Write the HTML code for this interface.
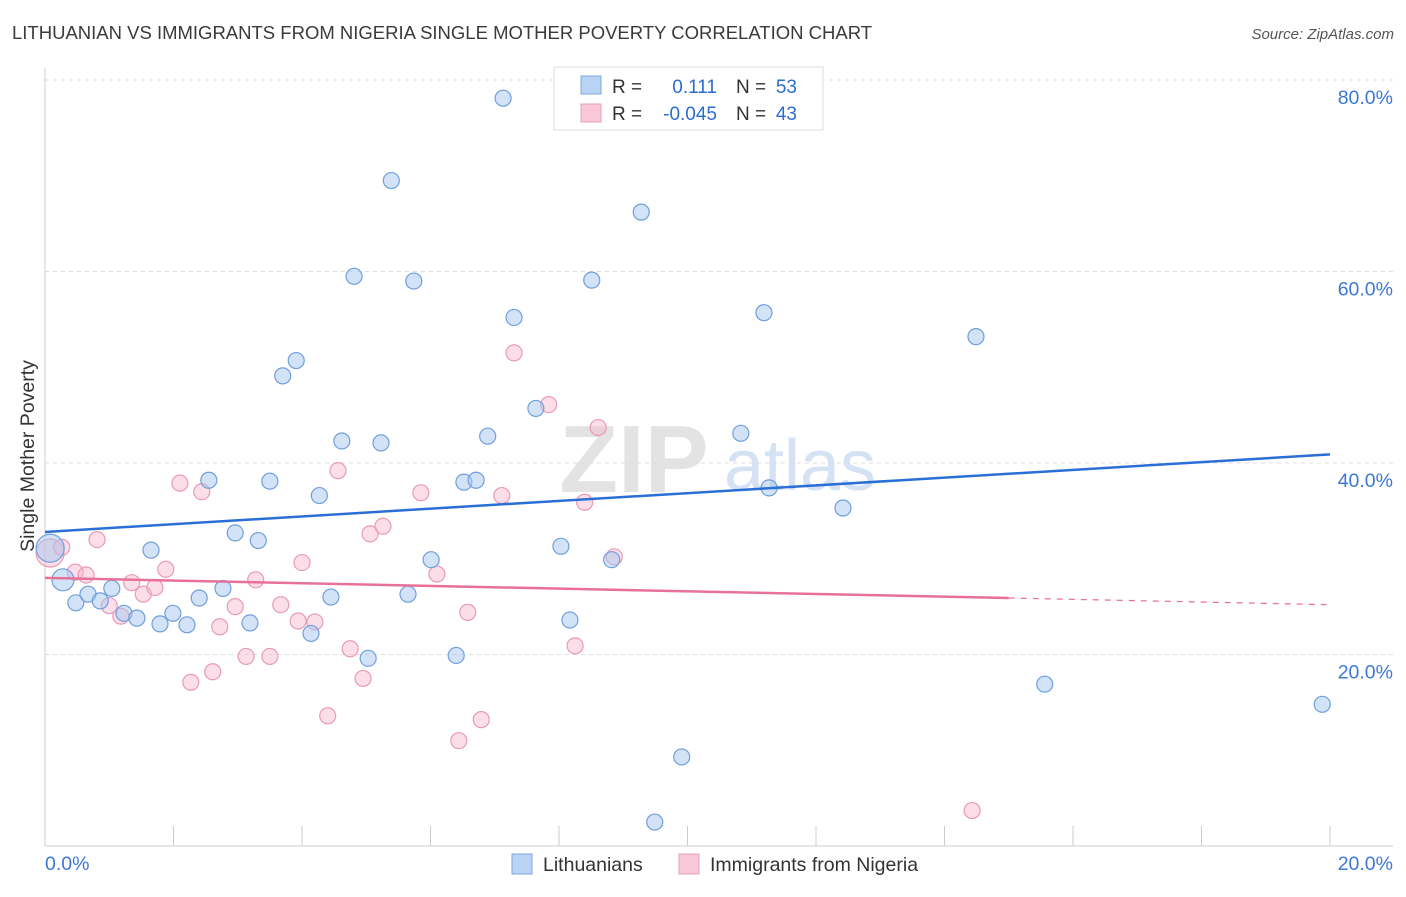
<!DOCTYPE html>
<html><head><meta charset="utf-8"><style>
body{margin:0;background:#fff;font-family:"Liberation Sans",sans-serif;}
svg text{font-family:"Liberation Sans",sans-serif;}
</style></head><body>
<svg id="chart" width="1406" height="892">
<text x="12" y="39" font-size="18.5" fill="#3a3a3a">LITHUANIAN VS IMMIGRANTS FROM NIGERIA SINGLE MOTHER POVERTY CORRELATION CHART</text>
<text x="1394" y="39" font-size="15" fill="#555" text-anchor="end" font-style="italic">Source: ZipAtlas.com</text>
<text x="634" y="492" font-size="96" fill="#e3e3e3" font-family="Liberation Serif" font-weight="bold" text-anchor="middle">ZIP</text>
<text x="800" y="490" font-size="72" fill="#d4e2f3" text-anchor="middle">atlas</text>
<g id="grid"></g>
<g id="axes"></g>
<g id="points"></g>
<g id="lines"></g>
<text x="34" y="456" font-size="19.5" fill="#333" text-anchor="middle" transform="rotate(-90 34 456)">Single Mother Poverty</text>
<g>
<rect x="554" y="67" width="269" height="63" fill="#fff" stroke="#ddd"/>
<rect x="581" y="76" width="20" height="18" fill="#b8d3f4" stroke="#7ea8dd"/>
<rect x="581" y="104" width="20" height="18" fill="#f8c8d8" stroke="#eaa0ba"/>
<text x="612" y="93" font-size="19" fill="#333">R =</text>
<text x="717" y="93" font-size="19" fill="#2b6cd0" text-anchor="end">0.111</text>
<text x="736" y="93" font-size="19" fill="#333">N =</text>
<text x="797" y="93" font-size="19" fill="#2b6cd0" text-anchor="end">53</text>
<text x="612" y="120" font-size="19" fill="#333">R =</text>
<text x="717" y="120" font-size="19" fill="#2b6cd0" text-anchor="end">-0.045</text>
<text x="736" y="120" font-size="19" fill="#333">N =</text>
<text x="797" y="120" font-size="19" fill="#2b6cd0" text-anchor="end">43</text>
</g>
<g>
<rect x="512" y="854" width="20" height="20" fill="#b8d3f4" stroke="#7ea8dd"/>
<text x="543" y="871" font-size="19.5" fill="#333">Lithuanians</text>
<rect x="679" y="854" width="20" height="20" fill="#f8c8d8" stroke="#eaa0ba"/>
<text x="710" y="871" font-size="19.5" fill="#333">Immigrants from Nigeria</text>
</g>
</svg>
<script>
const blueX=[0.08,0.28,0.48,0.67,0.86,1.04,1.23,1.43,1.65,1.79,1.99,2.21,2.40,2.55,2.77,2.96,3.19,3.32,3.50,3.70,3.91,4.14,4.27,4.45,4.62,4.81,5.03,5.23,5.39,5.65,5.74,6.01,6.40,6.52,6.71,6.89,7.13,7.30,7.64,8.03,8.17,8.51,8.82,9.28,9.49,9.91,10.83,11.19,11.27,12.42,14.49,15.56,19.88];
const blueY=[31.1,27.8,25.4,26.3,25.6,26.9,24.3,23.8,30.9,23.2,24.3,23.1,25.9,38.2,26.9,32.7,23.3,31.9,38.1,49.1,50.7,22.2,36.6,26.0,42.3,59.5,19.6,42.1,69.5,26.3,59.0,29.9,19.9,38.0,38.2,42.8,78.1,55.2,45.7,31.3,23.6,59.1,29.9,66.2,2.5,9.3,43.1,55.7,37.4,35.3,53.2,16.9,14.8];
const pinkX=[0.08,0.26,0.47,0.64,0.81,1.00,1.18,1.35,1.53,1.71,1.88,2.10,2.27,2.44,2.61,2.72,2.96,3.13,3.28,3.50,3.67,3.94,4.00,4.20,4.40,4.56,4.75,4.95,5.06,5.26,5.85,6.10,6.44,6.58,6.79,7.11,7.30,7.84,8.25,8.40,8.61,8.86,14.43];
const pinkY=[30.6,31.2,28.6,28.3,32.0,25.1,24.0,27.5,26.3,27.0,28.9,37.9,17.1,37.0,18.2,22.9,25.0,19.8,27.8,19.8,25.2,23.5,29.6,23.4,13.6,39.2,20.6,17.5,32.6,33.4,36.9,28.4,11.0,24.4,13.2,36.6,51.5,46.1,20.9,35.9,43.7,30.2,3.7];
const yTicks=[20,40,60,80];
const yTickLabels=["20.0%","40.0%","60.0%","80.0%"];
const xTickLabels=["0.0%","20.0%"];
const blueTrend=[32.8,40.9];
const pinkTrend=[28.0,25.2];
const NS="http://www.w3.org/2000/svg";
const sx=v=>45+v/20*1285;
const sy=v=>846-v/80*766;
function mk(tag,attrs,parent){const e=document.createElementNS(NS,tag);for(const k in attrs)e.setAttribute(k,attrs[k]);document.getElementById(parent).appendChild(e);return e;}
yTicks.forEach((t,i)=>{
 const g=mk('line',{x1:45,x2:1393,y1:sy(t),y2:sy(t),stroke:'#ddd','stroke-dasharray':'4,4'},'grid');
 
 
 const l=mk('text',{x:1393,y:sy(t)+24,'font-size':19.5,fill:'#3b78d8','text-anchor':'end'},'axes');
 l.textContent=yTickLabels[i];
 
 
});
const ax=mk('line',{x1:45,x2:45,y1:68,y2:846,stroke:'#ccc'},'axes');


const bx=mk('line',{x1:45,x2:1393,y1:846,y2:846,stroke:'#ccc'},'axes');


for(let i=0;i<=10;i++){
 const t=mk('line',{x1:sx(i*2),x2:sx(i*2),y1:826,y2:846,stroke:'#ccc'},'axes');
 
 
}
[[0,'start',45],[20,'end',1393]].forEach((d,i)=>{
 const l=mk('text',{x:d[2],y:870,'font-size':19.5,fill:'#3b78d8','text-anchor':d[1]},'axes');
 l.textContent=xTickLabels[i];
 
 
});
function pts(X,Y,fill,stroke,name){
 X.forEach((x,i)=>{
  const r=i===0?14:(i===1&&name==='lithuanian-point'?11:8);
  const c=mk('circle',{cx:sx(x),cy:sy(Y[i]),r:r,fill:fill,stroke:stroke,'stroke-width':1.2},'points');
  
  
 });
}
pts(pinkX,pinkY,'rgba(246,182,204,0.45)','#e99ab6','nigeria-point');
pts(blueX,blueY,'rgba(168,200,240,0.5)','#6f9fdc','lithuanian-point');
const bl=mk('line',{x1:sx(0),y1:sy(blueTrend[0]),x2:sx(20),y2:sy(blueTrend[1]),stroke:'#2a6fd6','stroke-width':2.5},'lines');


const pm=v=>pinkTrend[0]+(pinkTrend[1]-pinkTrend[0])*v/20;
const pl=mk('line',{x1:sx(0),y1:sy(pm(0)),x2:sx(15),y2:sy(pm(15)),stroke:'#e8719a','stroke-width':2.5},'lines');


const pd=mk('line',{x1:sx(15),y1:sy(pm(15)),x2:sx(20),y2:sy(pm(20)),stroke:'#e8719a','stroke-width':1.2,'stroke-dasharray':'6,6'},'lines');


</script>
</body></html>
